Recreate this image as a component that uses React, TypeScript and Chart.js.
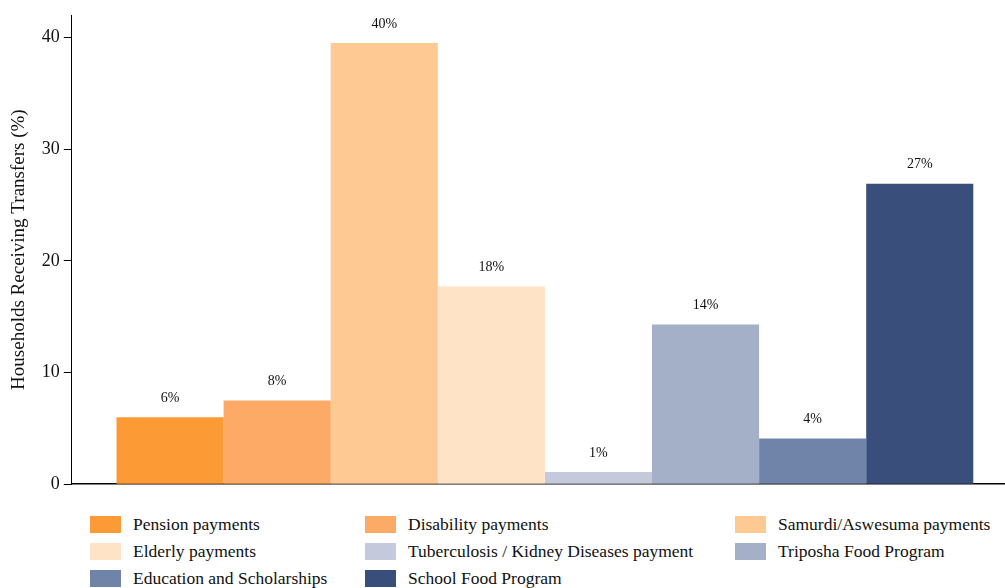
import React, { useEffect, useRef } from "react";
import { Chart, registerables } from "chart.js";

Chart.register(...registerables);

const categories = [
  "Pension payments",
  "Disability payments",
  "Samurdi/Aswesuma payments",
  "Elderly payments",
  "Tuberculosis / Kidney Diseases payment",
  "Triposha Food Program",
  "Education and Scholarships",
  "School Food Program",
];
const values = [6.0, 7.5, 39.5, 17.7, 1.1, 14.3, 4.1, 26.9];
const colors = [
  "#FC9A35",
  "#FDAA66",
  "#FEC993",
  "#FEE3C6",
  "#C5C9DC",
  "#A4B0C8",
  "#7083A8",
  "#3A4E7B",
];
const yTicks = [0, 10, 20, 30, 40];

const FONT = "'Liberation Serif', 'Times New Roman', serif";

const labelPlugin = {
  id: "valueLabels",
  afterDatasetsDraw(chart: any) {
    const ctx = chart.ctx;
    ctx.save();
    ctx.font = `14px ${FONT}`;
    ctx.fillStyle = "#111";
    ctx.textAlign = "center";
    ctx.textBaseline = "middle";
    chart.data.datasets.forEach((ds: any, i: number) => {
      const meta = chart.getDatasetMeta(i);
      const bar = meta.data[0];
      if (!bar) return;
      ctx.fillText(`${Math.round(ds.data[0])}%`, bar.x, bar.y - 19);
    });
    ctx.restore();
  },
};

export default function App() {
  const ref = useRef<HTMLCanvasElement | null>(null);

  useEffect(() => {
    document.body.style.margin = "0";
    const chart = new Chart(ref.current as HTMLCanvasElement, {
      type: "bar",
      data: {
        labels: [""],
        datasets: categories.map((c, i) => ({
          label: c,
          data: [values[i]],
          backgroundColor: colors[i],
          borderWidth: 0,
        })),
      },
      options: {
        animation: false,
        responsive: false,
        maintainAspectRatio: false,
        layout: { padding: { left: 8, right: 0, top: 15, bottom: 0 } },
        datasets: { bar: { barPercentage: 1, categoryPercentage: 0.9055 } },
        plugins: {
          legend: { display: false },
          tooltip: { enabled: false },
        },
        scales: {
          x: {
            ticks: { display: false },
            grid: { display: false },
            border: { display: true, color: "#000", width: 1.5 },
          },
          y: {
            min: 0,
            max: 42,
            afterBuildTicks: (axis: any) => {
              axis.ticks = yTicks.map((v) => ({ value: v }));
            },
            ticks: {
              padding: 4,
              color: "#111",
              font: { family: FONT, size: 18 },
            },
            grid: {
              drawOnChartArea: false,
              drawTicks: true,
              tickLength: 8,
              color: "#000",
            },
            border: { display: true, color: "#000", width: 1 },
            title: {
              display: true,
              text: "Households Receiving Transfers (%)",
              color: "#111",
              font: { family: FONT, size: 19 },
              padding: { top: 0, bottom: 7 },
            },
          },
        },
      },
      plugins: [labelPlugin],
    });
    return () => chart.destroy();
  }, []);

  const colLeft = [90, 365, 735];
  return (
    <div style={{ width: 1005, height: 588, position: "relative", background: "#fff", overflow: "hidden" }}>
      <canvas ref={ref} width={1018} height={499} style={{ display: "block" }} />
      {categories.map((c, i) => {
        const row = Math.floor(i / 3);
        const col = i % 3;
        return (
          <div
            key={c}
            style={{
              position: "absolute",
              left: colLeft[col],
              top: 514 + row * 27,
              height: 20,
              display: "flex",
              alignItems: "center",
              fontFamily: FONT,
              fontSize: 17.5,
              color: "#111",
              whiteSpace: "nowrap",
            }}
          >
            <span
              style={{
                display: "inline-block",
                width: 31,
                height: 17,
                background: colors[i],
                marginRight: 12,
              }}
            />
            {c}
          </div>
        );
      })}
    </div>
  );
}
